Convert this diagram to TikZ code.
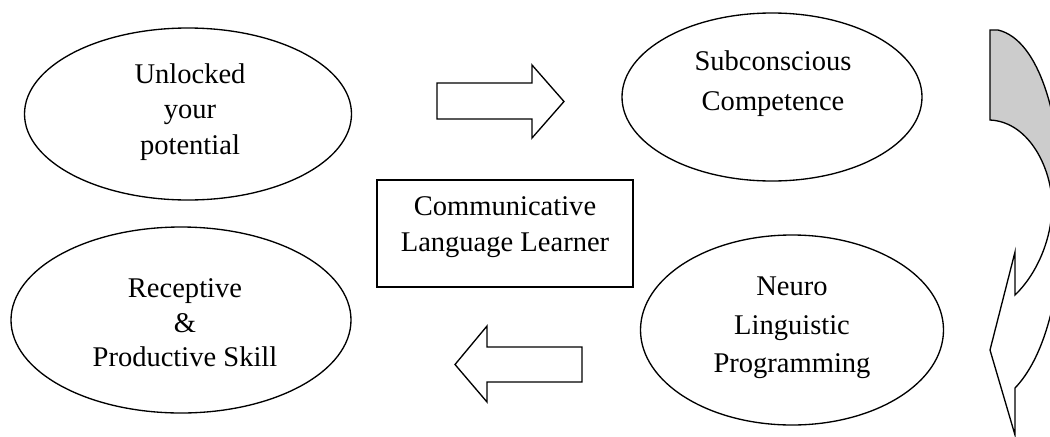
\documentclass[tikz,border=0pt]{standalone}
\usepackage{fontspec}
\setmainfont{Liberation Serif}
\usetikzlibrary{shapes.geometric}
\definecolor{backshade}{RGB}{204,204,204}
\tikzset{
  ell/.style={draw, ellipse, line width=1pt, inner sep=0pt},
  txt/.style={align=center, inner sep=0pt, font=\fontsize{21.4}{27}\selectfont},
  boxnode/.style={draw, rectangle, line width=1pt, inner sep=0pt},
  blockarrow/.style={draw, fill=white, line width=1pt, line join=miter},
}
\begin{document}
\begin{tikzpicture}[x=0.75pt,y=-0.75pt]
\useasboundingbox (0,0) rectangle (1050,436);
% ellipses
\node[ell, minimum width=245.25pt, minimum height=129pt] (A) at (188,114) {};
\node[ell, minimum width=255pt, minimum height=139.5pt] (B) at (181,320) {};
\node[ell, minimum width=225pt, minimum height=126pt] (C) at (772,97) {};
\node[ell, minimum width=227.25pt, minimum height=142.5pt] (D) at (792,330) {};
\node[boxnode, minimum width=192pt, minimum height=80.25pt] (E) at (505,233.5) {};
% texts
\node[txt] (At) at (190,112) {Unlocked\\[-0.5pt]your\\[-0.5pt]potential};
\node[txt] (Bt) at (185,323) {Receptive\\[-1pt]\&\\[-1pt]Productive Skill};
\node[txt] (Ct) at (773,84) {Subconscious\\[3pt]Competence};
\node[txt] (Dt) at (792,328) {Neuro\\[2pt]Linguistic\\[2pt]Programming};
\node[txt] (Et) at (505,227) {Communicative\\[0.5pt]Language Learner};
% block arrows
\draw[blockarrow] (437,83) -- (532,83) -- (532,65) -- (564,101.5) -- (532,138) -- (532,119) -- (437,119) -- cycle;
\draw[blockarrow] (582,347) -- (487,347) -- (487,326) -- (455,364.5) -- (487,402) -- (487,382) -- (582,382) -- cycle;
% curved arrow at the right
\begin{scope}
\clip (0,0) rectangle (1050,436);
\draw[line width=1pt, fill=backshade, line join=miter]
  (990,30) -- (998,30) .. controls (1040,40) and (1062,120) .. (1062,210)
  -- (1052,205) .. controls (1052,170) and (1030,122) .. (990,120) -- cycle;
\draw[line width=1pt, fill=white, line join=miter]
  (1052,205) .. controls (1052,240) and (1036,275) .. (1015,295)
  -- (1015,252) -- (990,350) -- (1015,435) -- (1015,388)
  .. controls (1042,360) and (1062,300) .. (1062,210) -- cycle;
\end{scope}
\end{tikzpicture}
\end{document}
